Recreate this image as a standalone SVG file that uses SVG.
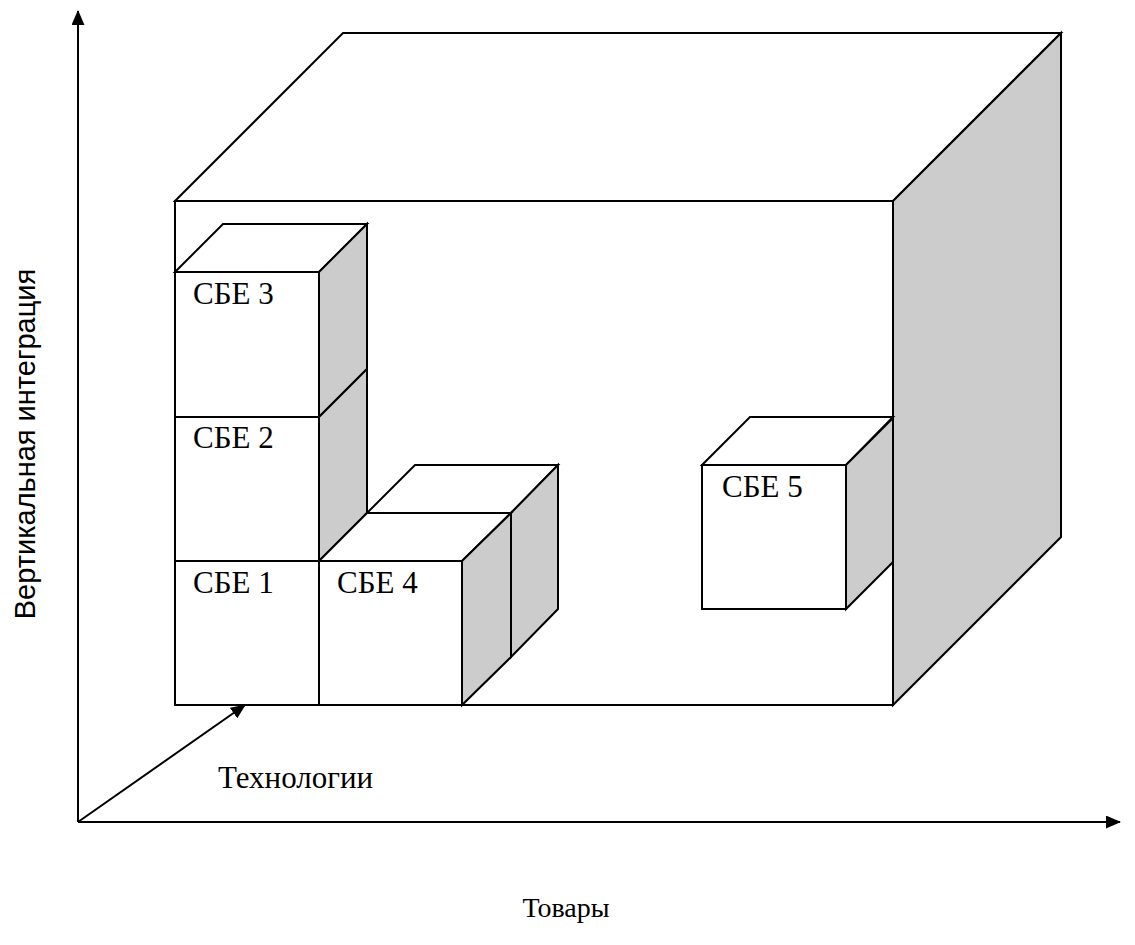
<svg xmlns="http://www.w3.org/2000/svg" width="1135" height="945" viewBox="0 0 1135 945">
  <style>
    .face { fill: #ffffff; stroke: #000000; stroke-width: 2; stroke-linejoin: miter; }
    .side { fill: #cccccc; stroke: #000000; stroke-width: 2; stroke-linejoin: miter; }
    .axis { fill: none; stroke: #000000; stroke-width: 2; }
    .lbl { font-family: "Liberation Serif", "Times New Roman", serif; font-size: 31px; fill: #000000; }
    .vlbl { font-family: "Liberation Sans", Arial, sans-serif; font-size: 29px; fill: #000000; }
  </style>
  <defs>
    <marker id="arrow" viewBox="0 0 15 13" refX="14" refY="6.5" markerWidth="15" markerHeight="13" markerUnits="userSpaceOnUse" orient="auto">
      <path d="M0,0 L15,6.5 L0,13 Z" fill="#000000"/>
    </marker>
  </defs>

  <!-- large outer cube -->
  <g id="space">
    <polygon class="face" points="175,201 343,33 1061,33 893,201"/>
    <polygon class="side" points="893,201 1061,33 1061,537 893,705"/>
    <rect class="face" x="175" y="201" width="718" height="504"/>
  </g>

  <!-- unit cubes -->
  <g id="sbe3">
    <polygon class="face" points="175,272 223,224 367,224 319,272"/>
    <polygon class="side" points="319,272 367,224 367,369 319,417"/>
    <rect class="face" x="175" y="272" width="144" height="145"/>
    <text class="lbl" x="193" y="304">СБЕ 3</text>
  </g>
  <g id="sbe2">
    <polygon class="side" points="319,417 367,369 367,513 319,561"/>
    <rect class="face" x="175" y="417" width="144" height="144"/>
    <text class="lbl" x="193" y="448">СБЕ 2</text>
  </g>
  <g id="sbe4-back">
    <polygon class="face" points="367,513 415,465 558,465 511,513"/>
    <polygon class="side" points="511,513 558,465 558,609 511,657"/>
  </g>
  <g id="sbe4">
    <polygon class="face" points="319,561 367,513 511,513 462,561"/>
    <polygon class="side" points="462,561 511,513 511,657 462,705"/>
    <rect class="face" x="319" y="561" width="143" height="144"/>
    <text class="lbl" x="337" y="593">СБЕ 4</text>
  </g>
  <g id="sbe1">
    <rect class="face" x="175" y="561" width="144" height="144"/>
    <text class="lbl" x="193" y="593">СБЕ 1</text>
  </g>
  <g id="sbe5">
    <polygon class="face" points="702,465 750,417 893,417 846,465"/>
    <polygon class="side" points="846,465 893,418 893,562 846,609"/>
    <rect class="face" x="702" y="465" width="144" height="144"/>
    <text class="lbl" x="722" y="497">СБЕ 5</text>
  </g>

  <!-- axes -->
  <g id="connectors">
    <line class="axis" x1="78" y1="822" x2="78" y2="11" marker-end="url(#arrow)"/>
    <line class="axis" x1="78" y1="822" x2="1120" y2="822" marker-end="url(#arrow)"/>
    <line class="axis" x1="78" y1="822" x2="245" y2="705" marker-end="url(#arrow)"/>
    <line x1="197" y1="753" x2="203" y2="749" stroke="#ffffff" stroke-width="3"/>
  </g>

  <!-- axis labels -->
  <g id="labels">
    <text class="lbl" x="218" y="788">Технологии</text>
    <text class="lbl" x="566" y="917" text-anchor="middle" style="font-size:28px">Товары</text>
    <text class="vlbl" transform="translate(35,444) rotate(-90)" text-anchor="middle">Вертикальная интеграция</text>
  </g>
</svg>
